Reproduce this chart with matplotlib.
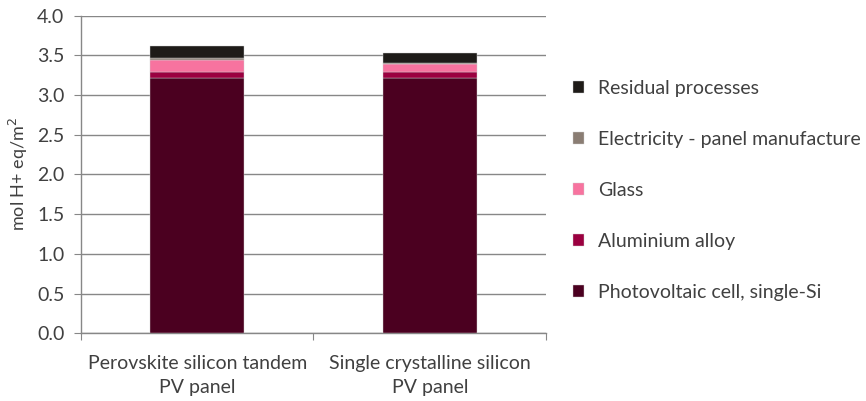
import matplotlib
matplotlib.use("Agg")
import matplotlib.pyplot as plt
import numpy as np

plt.rcParams['font.family'] = ['Lato', 'DejaVu Sans']

# acidification per m2 of panel, stacked by contributor
panels = ["Perovskite silicon tandem\nPV panel", "Single crystalline silicon\nPV panel"]
pv_cell = [3.22, 3.22]
aluminium = [0.067, 0.067]
glass = [0.15, 0.10]
electricity = [0.025, 0.012]
residual = [0.155, 0.135]

layers = [
    ("Photovoltaic cell, single-Si", pv_cell, "#4b0020"),
    ("Aluminium alloy", aluminium, "#9b0040"),
    ("Glass", glass, "#f7739f"),
    ("Electricity - panel manufacture", electricity, "#8a7d73"),
    ("Residual processes", residual, "#1e1b18"),
]

fig = plt.figure(figsize=(8.66, 4.01), dpi=100)
ax = fig.add_axes([0.0935, 0.169, 0.537, 0.792])

x = np.arange(len(panels))
bottom = np.zeros(len(panels))
handles = []
for name, vals, col in layers:
    b = ax.bar(x, vals, width=0.405, bottom=bottom, color=col, label=name,
               edgecolor="#d0d0d0", linewidth=0.3, zorder=3)
    handles.append(b)
    bottom += np.array(vals)

ax.set_xlim(-0.5, 1.5)
ax.set_ylim(0, 4.0)
ax.set_yticks(np.arange(0, 4.01, 0.5))
ax.set_yticklabels([f"{v:.1f}" for v in np.arange(0, 4.01, 0.5)])
ax.yaxis.grid(True, color="#878787", linewidth=1, zorder=0)
ax.set_axisbelow(True)

# category labels centred, ticks at category boundaries
ax.set_xticks([-0.5, 0.5, 1.5])
ax.set_xticklabels([])
ax.set_xticks(x, minor=True)
ax.set_xticklabels(panels, minor=True, fontsize=14, color="#404040", linespacing=1.45)
ax.tick_params(axis="x", which="minor", length=0, pad=16)
ax.tick_params(axis="x", which="major", length=5, color="#878787")
ax.tick_params(axis="y", length=5, color="#878787", labelsize=14, labelcolor="#404040", pad=7)

for s in ["top", "right"]:
    ax.spines[s].set_visible(False)
for s in ["left", "bottom"]:
    ax.spines[s].set_color("#878787")
    ax.spines[s].set_linewidth(1)

ax.set_ylabel("mol H+ eq/m$^2$", fontsize=13, color="#404040", labelpad=5)

leg = fig.legend(handles[::-1], [l[0] for l in layers][::-1],
                 loc="upper left", bbox_to_anchor=(0.641, 0.845),
                 frameon=False, fontsize=14, labelspacing=1.75,
                 handlelength=0.6, handleheight=0.6, handletextpad=0.7)
for t in leg.get_texts():
    t.set_color("#404040")

fig.savefig("out.png", dpi=100)
